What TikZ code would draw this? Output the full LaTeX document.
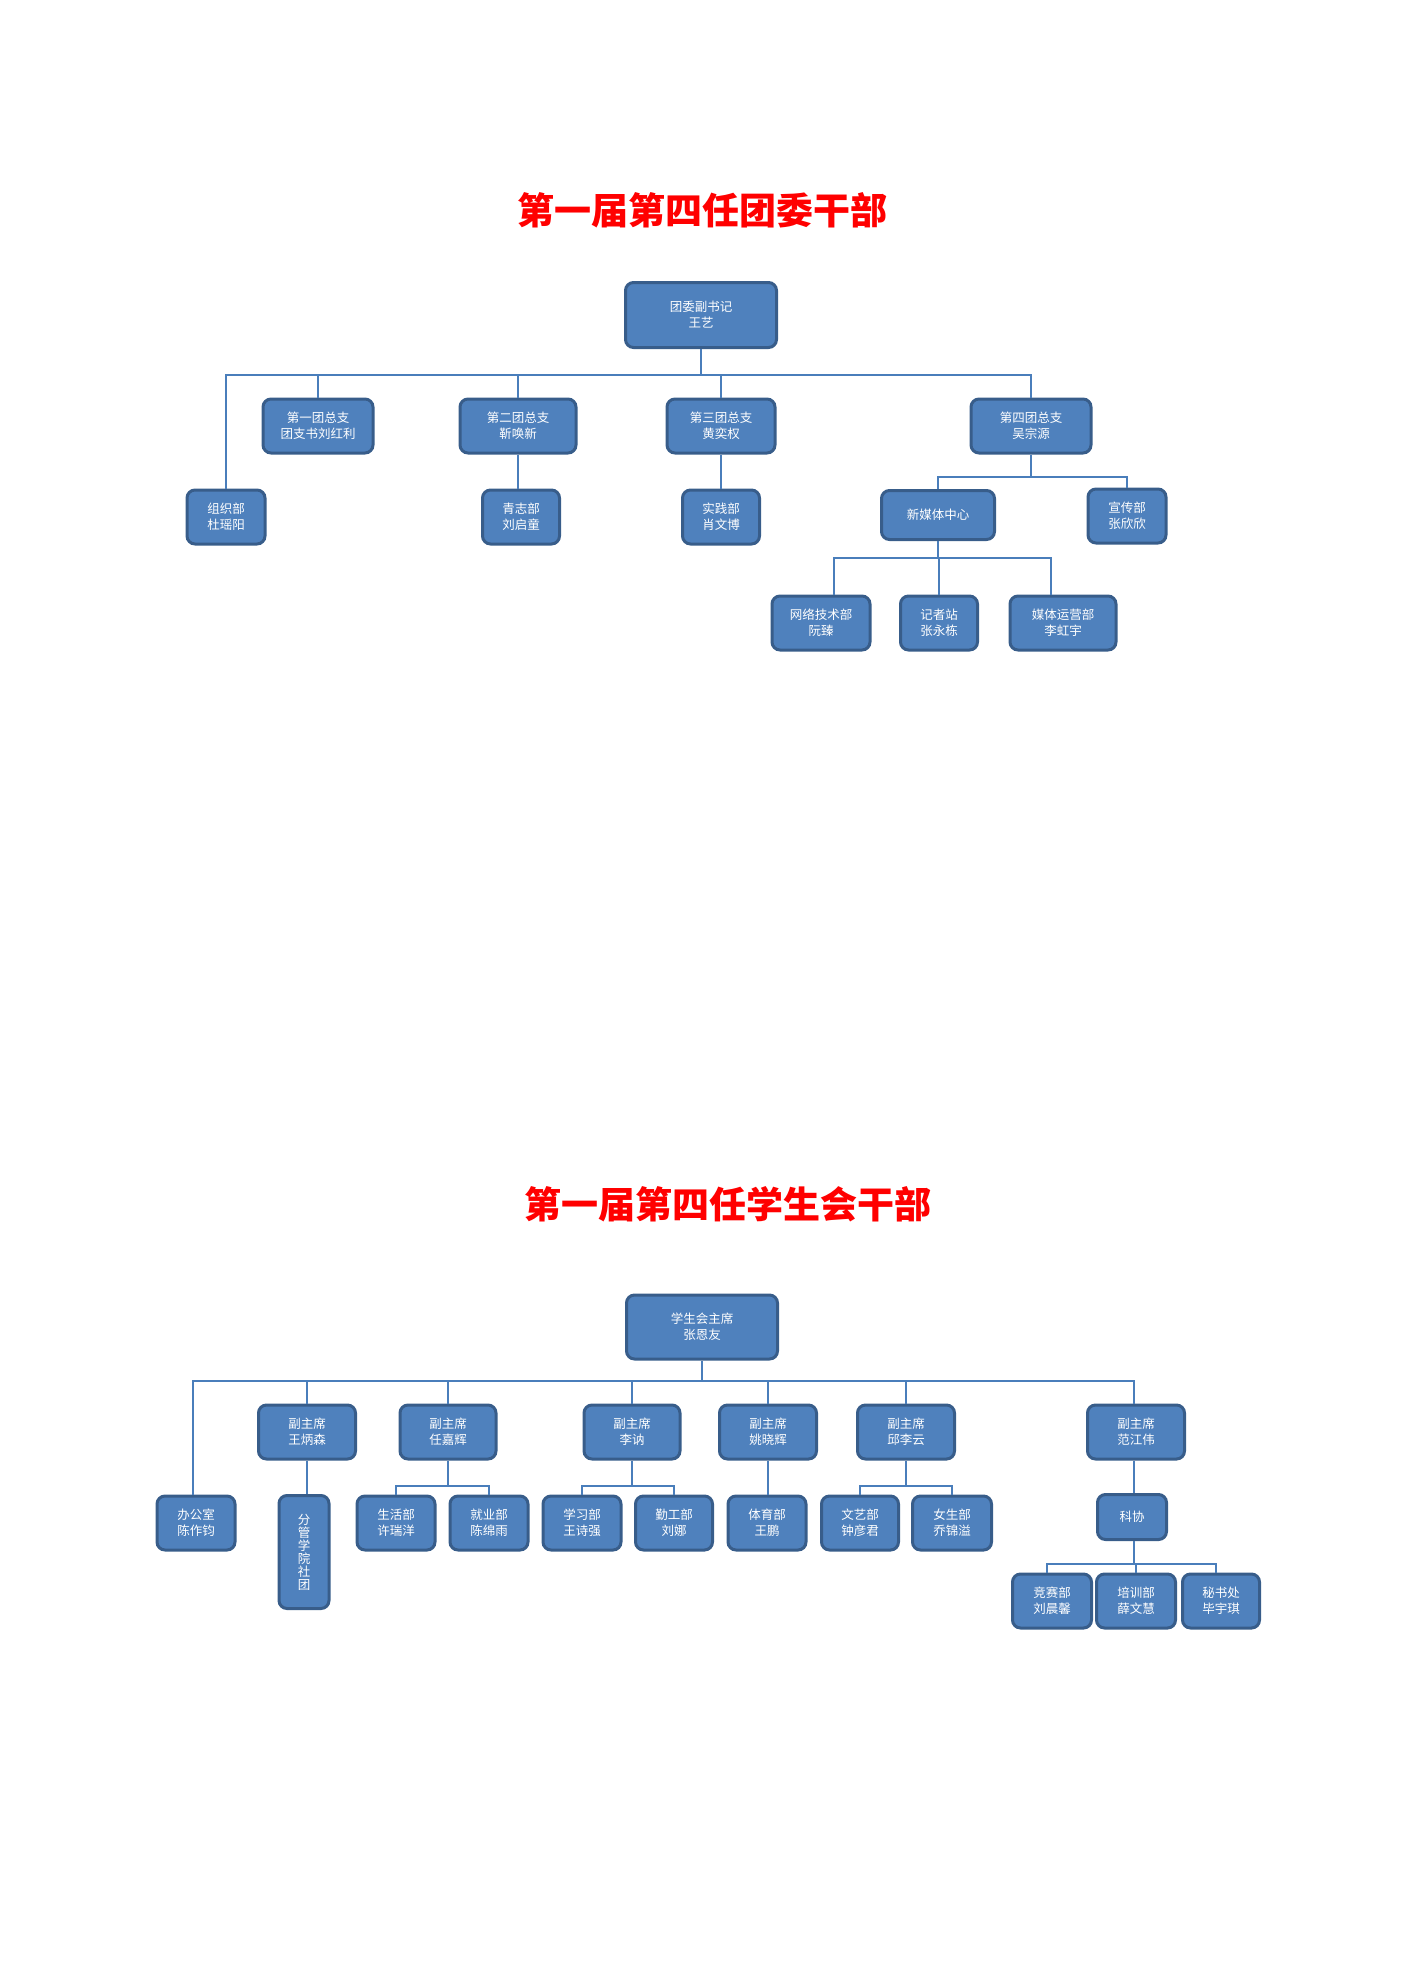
\documentclass[tikz,border=0pt]{standalone}
\usepackage{fontspec}
\newfontfamily\cjk{Noto Sans CJK SC}
\definecolor{boxblue}{HTML}{4F81BD}
\definecolor{boxedge}{HTML}{385D8A}
\definecolor{linkblue}{HTML}{4A7EBB}
\tikzset{
  box/.style={rounded corners=8pt, fill=boxblue, draw=boxedge, line width=3pt,
    text=white, align=center, inner sep=0pt, minimum height=54pt,
    font=\cjk\fontsize{12.5}{16}\selectfont},
  chart title/.style={text=red, inner sep=0pt, font=\cjk\bfseries\fontsize{37}{40}\selectfont},
  link/.style={draw=linkblue, line width=1.3pt}
}
\begin{document}
\begin{tikzpicture}[x=1pt,y=-1pt]
  \useasboundingbox (0,0) rectangle (1404,1986);
  % first chart
  \node[chart title] (T1) at (702,210) {第一届第四任团委干部};
  \node[box, minimum width=151pt, minimum height=65pt] (fsj) at (701,315) {团委副书记\\王艺};
  \node[box, minimum width=110pt] (zz1) at (318,426) {第一团总支\\团支书刘红利};
  \node[box, minimum width=116pt] (zz2) at (518,426) {第二团总支\\靳唤新};
  \node[box, minimum width=108pt] (zz3) at (721,426) {第三团总支\\黄奕权};
  \node[box, minimum width=120pt] (zz4) at (1031,426) {第四团总支\\吴宗源};
  \node[box, minimum width=78pt] (zzb) at (226,517) {组织部\\杜瑶阳};
  \node[box, minimum width=77pt] (qzb) at (521,517) {青志部\\刘启童};
  \node[box, minimum width=77pt] (sjb) at (721,517) {实践部\\肖文博};
  \node[box, minimum width=113pt, minimum height=49pt] (xmt) at (938,515) {新媒体中心};
  \node[box, minimum width=78pt] (xcb) at (1127,516) {宣传部\\张欣欣};
  \node[box, minimum width=98pt] (wlb) at (821,623) {网络技术部\\阮臻};
  \node[box, minimum width=77pt] (jzz) at (939,623) {记者站\\张永栋};
  \node[box, minimum width=106pt] (mtb) at (1063,623) {媒体运营部\\李虹宇};
  \coordinate (bus1) at (701,375);
  \coordinate (bus2) at (1031,477);
  \coordinate (bus3) at (938,558);
  \draw[link] (fsj.south) -- (bus1);
  \draw[link] (bus1) -| (zzb.north);
  \draw[link] (bus1) -| (zz1.north);
  \draw[link] (bus1) -| (zz2.north);
  \draw[link] (bus1) -| (zz3.north);
  \draw[link] (bus1) -| (zz4.north);
  \draw[link] (zz2.south) -- (zz2.south |- qzb.north);
  \draw[link] (zz3.south) -- (sjb.north);
  \draw[link] (zz4.south) -- (bus2);
  \draw[link] (bus2) -| (xmt.north);
  \draw[link] (bus2) -| (xcb.north);
  \draw[link] (xmt.south) -- (bus3);
  \draw[link] (bus3) -| ([xshift=13pt]wlb.north);
  \draw[link] (bus3) -| (jzz.north);
  \draw[link] (bus3) -| ([xshift=-12pt]mtb.north);
  % second chart
  \node[chart title] (T2) at (728,1204) {第一届第四任学生会干部};
  \node[box, minimum width=151pt, minimum height=64pt] (xzx) at (702,1327) {学生会主席\\张恩友};
  \node[box, minimum width=97pt] (fz1) at (307,1432) {副主席\\王炳森};
  \node[box, minimum width=96pt] (fz2) at (448,1432) {副主席\\任嘉辉};
  \node[box, minimum width=96pt] (fz3) at (632,1432) {副主席\\李讷};
  \node[box, minimum width=97pt] (fz4) at (768,1432) {副主席\\姚晓辉};
  \node[box, minimum width=97pt] (fz5) at (906,1432) {副主席\\邱李云};
  \node[box, minimum width=97pt] (fz6) at (1136,1432) {副主席\\范江伟};
  \node[box, minimum width=78pt] (bgs) at (196,1523) {办公室\\陈作钧};
  \node[box, minimum width=50pt, minimum height=113pt,
    font=\cjk\fontsize{12.5}{13}\selectfont] (fgs) at (304,1552) {分\\管\\学\\院\\社\\团};
  \node[box, minimum width=78pt] (shb) at (396,1523) {生活部\\许瑞洋};
  \node[box, minimum width=78pt] (jyb) at (489,1523) {就业部\\陈绵雨};
  \node[box, minimum width=78pt] (xxb) at (582,1523) {学习部\\王诗强};
  \node[box, minimum width=77pt] (qgb) at (674,1523) {勤工部\\刘娜};
  \node[box, minimum width=78pt] (tyb) at (767,1523) {体育部\\王鹏};
  \node[box, minimum width=77pt] (wyb) at (860,1523) {文艺部\\钟彦君};
  \node[box, minimum width=79pt] (nsb) at (952,1523) {女生部\\乔锦溢};
  \node[box, minimum width=69pt, minimum height=45pt] (kx) at (1132,1517) {科协};
  \node[box, minimum width=79pt] (jsb) at (1052,1601) {竞赛部\\刘晨馨};
  \node[box, minimum width=79pt] (pxb) at (1136,1601) {培训部\\薛文慧};
  \node[box, minimum width=77pt] (msc) at (1221,1601) {秘书处\\毕宇琪};
  \coordinate (bus4) at (702,1381);
  \coordinate (bus5) at (448,1486);
  \coordinate (bus6) at (632,1486);
  \coordinate (bus7) at (906,1486);
  \coordinate (bus8) at (1134,1564);
  \draw[link] (xzx.south) -- (bus4);
  \draw[link] (bus4) -| ([xshift=-3pt]bgs.north);
  \draw[link] (bus4) -| (fz1.north);
  \draw[link] (bus4) -| (fz2.north);
  \draw[link] (bus4) -| (fz3.north);
  \draw[link] (bus4) -| (fz4.north);
  \draw[link] (bus4) -| (fz5.north);
  \draw[link] (bus4) -| ([xshift=-2pt]fz6.north);
  \draw[link] (fz1.south) -- (fz1.south |- fgs.north);
  \draw[link] (fz2.south) -- (bus5);
  \draw[link] (bus5) -| (shb.north);
  \draw[link] (bus5) -| (jyb.north);
  \draw[link] (fz3.south) -- (bus6);
  \draw[link] (bus6) -| (xxb.north);
  \draw[link] (bus6) -| (qgb.north);
  \draw[link] (fz4.south) -- (fz4.south |- tyb.north);
  \draw[link] (fz5.south) -- (bus7);
  \draw[link] (bus7) -| (wyb.north);
  \draw[link] (bus7) -| (nsb.north);
  \draw[link] ([xshift=-2pt]fz6.south) -- ([xshift=-2pt]fz6.south |- kx.north);
  \draw[link] (kx.south -| bus8) -- (bus8);
  \draw[link] (bus8) -| ([xshift=-5pt]jsb.north);
  \draw[link] (bus8) -| (pxb.north);
  \draw[link] (bus8) -| ([xshift=-5pt]msc.north);
\end{tikzpicture}
\end{document}
